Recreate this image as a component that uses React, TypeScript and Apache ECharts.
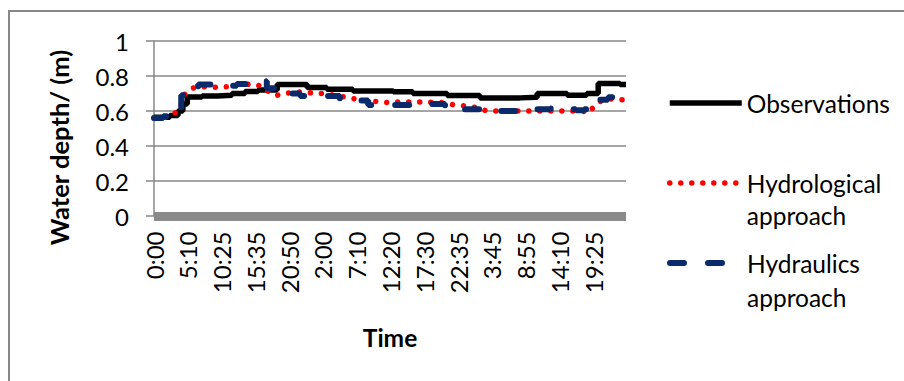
import React, { useEffect, useRef } from "react";
import * as echarts from "echarts";

// x positions are sample indices (5-minute samples); tick labels every 62 samples
const tickLabels = ["0:00", "5:10", "10:25", "15:35", "20:50", "2:00", "7:10", "12:20", "17:30", "22:35", "3:45", "8:55", "14:10", "19:25"];
const TICK_STEP = 62;
const LAST_INDEX = 866;

const obsIdx = [0, 29, 44, 53, 61, 88, 116, 143, 167, 191, 226, 281, 317, 365, 439, 475, 538, 598, 672, 703, 758, 794, 815, 855, 866];
const obsVal = [0.565, 0.575, 0.6, 0.64, 0.68, 0.686, 0.69, 0.7, 0.712, 0.72, 0.752, 0.735, 0.725, 0.715, 0.71, 0.7, 0.688, 0.675, 0.678, 0.7, 0.69, 0.7, 0.757, 0.752, 0.752];

const hydroIdx = [0, 20, 33, 46, 57, 70, 84, 121, 140, 158, 189, 204, 213, 226, 259, 281, 310, 332, 354, 382, 406, 428, 452, 525, 534, 552, 574, 592, 611, 787, 796, 815, 833, 851, 866];
const hydroVal = [0.56, 0.565, 0.58, 0.6, 0.7, 0.73, 0.74, 0.735, 0.74, 0.755, 0.75, 0.73, 0.7, 0.69, 0.71, 0.705, 0.7, 0.69, 0.678, 0.66, 0.655, 0.648, 0.652, 0.65, 0.644, 0.634, 0.628, 0.62, 0.6, 0.6, 0.587, 0.65, 0.67, 0.665, 0.665];

const hydraIdx = [0, 17, 50, 59, 81, 125, 152, 172, 191, 207, 222, 251, 268, 323, 341, 369, 393, 453, 470, 534, 552, 598, 617, 690, 699, 727, 754, 774, 789, 807, 818, 833, 866];
const hydraVal = [0.56, 0.57, 0.69, 0.71, 0.752, 0.745, 0.755, 0.765, 0.77, 0.73, 0.71, 0.7, 0.686, 0.686, 0.67, 0.66, 0.635, 0.635, 0.64, 0.63, 0.61, 0.61, 0.6, 0.6, 0.61, 0.615, 0.61, 0.605, 0.61, 0.62, 0.665, 0.678, 0.678];

const FONT = "Lato";
const GRAY = "#878787";
const BLUE = "#0a2a6b";

const pairs = (xs: number[], ys: number[]) => xs.map((x, i) => [x, ys[i]]);

export default function App() {
  const ref = useRef<HTMLDivElement>(null);
  useEffect(() => {
    if (!ref.current) return;
    const chart = echarts.init(ref.current, null, { renderer: "svg" });
    const legendBase = {
      orient: "vertical",
      left: 667,
      itemWidth: 72,
      itemHeight: 28,
      padding: 0,
      selectedMode: false,
      itemStyle: { opacity: 0 },
    };
    chart.setOption({
      animation: false,
      backgroundColor: "#fff",
      graphic: [
        {
          type: "rect",
          shape: { x: 9, y: 11, width: 1000, height: 500 },
          style: { fill: "none", stroke: GRAY, lineWidth: 2 },
          silent: true,
        },
      ],
      grid: { left: 154, right: 278, top: 41, bottom: 165, containLabel: false },
      legend: [
        {
          ...legendBase,
          top: 89,
          data: ["Observations"],
          lineStyle: { width: 5.5 },
          textStyle: { fontFamily: FONT, fontSize: 24.5, color: "#000", lineHeight: 28 },
        },
        {
          ...legendBase,
          top: 135,
          data: ["Hydrological approach"],
          lineStyle: { width: 5.5 },
          formatter: (n: string) => "\n" + n.replace(" ", "\n"),
          textStyle: { fontFamily: FONT, fontSize: 24.5, color: "#000", lineHeight: 32 },
        },
        {
          ...legendBase,
          top: 212,
          data: ["Hydraulics approach"],
          lineStyle: { width: 6 },
          formatter: (n: string) => "\n" + n.replace(" ", "\n"),
          textStyle: { fontFamily: FONT, fontSize: 24.5, color: "#000", lineHeight: 34 },
        },
      ],
      xAxis: {
        type: "value",
        min: 0,
        max: LAST_INDEX,
        interval: TICK_STEP,
        offset: 4.5,
        name: "Time",
        nameLocation: "middle",
        nameGap: 104,
        nameTextStyle: { fontFamily: FONT, fontSize: 24.5, fontWeight: "bold", color: "#000" },
        axisLine: { show: true, lineStyle: { color: "#8a8a8a", width: 9, cap: "butt" } },
        axisTick: { show: false },
        splitLine: { show: false },
        axisLabel: {
          rotate: 90,
          margin: 11,
          fontFamily: FONT,
          fontSize: 24,
          color: "#000",
          showMaxLabel: false,
          formatter: (v: number) => {
            const i = Math.round(v / TICK_STEP);
            return Math.abs(v - i * TICK_STEP) < 1e-6 && tickLabels[i] ? tickLabels[i] : "";
          },
        },
      },
      yAxis: {
        type: "value",
        min: 0,
        max: 1,
        interval: 0.2,
        name: "Water depth/ (m)",
        nameLocation: "middle",
        nameGap: 82,
        nameTextStyle: { fontFamily: FONT, fontSize: 25.5, fontWeight: "bold", color: "#000", padding: [0, 38, 0, 0] },
        axisLine: { show: true, lineStyle: { color: GRAY, width: 1.5 } },
        axisTick: { show: true, length: 8, lineStyle: { color: GRAY, width: 1.5 } },
        splitLine: { show: true, lineStyle: { color: GRAY, width: 1.5 } },
        axisLabel: { margin: 25, fontFamily: FONT, fontSize: 24, color: "#000" },
      },
      series: [
        {
          name: "Observations",
          type: "line",
          step: "end",
          symbol: "none",
          data: pairs(obsIdx, obsVal),
          lineStyle: { color: "#000", width: 5.5 },
          itemStyle: { color: "#000" },
        },
        {
          name: "Hydrological approach",
          type: "line",
          symbol: "none",
          data: pairs(hydroIdx, hydroVal),
          lineStyle: { color: "#ff0000", width: 5.5, type: [0.01, 11], cap: "round" },
          itemStyle: { color: "#ff0000" },
        },
        {
          name: "Hydraulics approach",
          type: "line",
          step: "end",
          symbol: "none",
          data: pairs(hydraIdx, hydraVal),
          lineStyle: { color: BLUE, width: 6, type: [14, 24], cap: "round" },
          itemStyle: { color: BLUE },
        },
      ],
    });
    return () => chart.dispose();
  }, []);
  return <div ref={ref} style={{ position: "fixed", left: 0, top: 0, width: 904, height: 381 }} />;
}
